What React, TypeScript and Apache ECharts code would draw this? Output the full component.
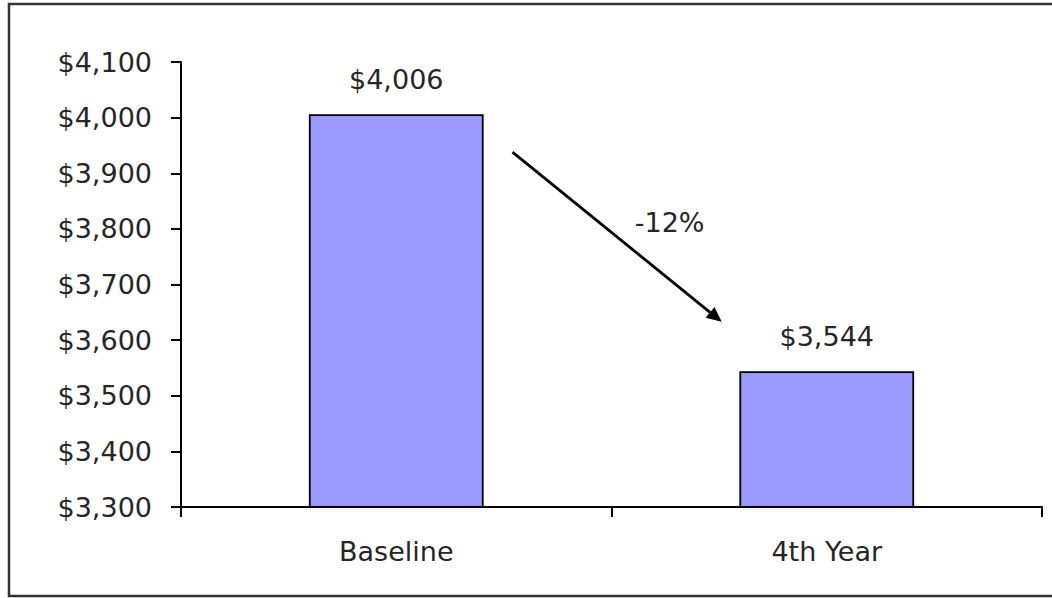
import React, { useEffect, useRef } from "react";
import * as echarts from "echarts";

const categories = ["Baseline", "4th Year"];
const costValues = [4006, 3544];
const yMin = 3300;
const yMax = 4100;
const yStep = 100;
const changeLabel = "-12%";

const FONT = "DejaVu Sans";
const TEXT = "#262626";
const FS = 27;

const money = (v: number) => "$" + Math.round(v).toLocaleString("en-US");

export default function App() {
  const ref = useRef<HTMLDivElement>(null);
  useEffect(() => {
    if (!ref.current) return;
    const chart = echarts.init(ref.current, undefined, { renderer: "svg" });
    const option: any = {
      animation: false,
      backgroundColor: "#ffffff",
      grid: { left: 181, right: 10, top: 62, bottom: 91 },
      xAxis: {
        type: "category",
        data: categories,
        boundaryGap: true,
        axisLine: { lineStyle: { color: "#000", width: 2 } },
        axisTick: { show: true, length: 10, alignWithLabel: false, lineStyle: { color: "#000", width: 2 } },
        axisLabel: { fontFamily: FONT, fontSize: FS, color: TEXT, margin: 31 },
        splitLine: { show: false },
      },
      yAxis: {
        type: "value",
        min: yMin,
        max: yMax,
        interval: yStep,
        axisLine: { show: true, lineStyle: { color: "#000", width: 2 } },
        axisTick: { show: true, length: 10, inside: false, lineStyle: { color: "#000", width: 2 } },
        axisLabel: {
          fontFamily: FONT,
          fontSize: FS,
          color: TEXT,
          margin: 29,
          formatter: (v: number) => money(v),
        },
        splitLine: { show: false },
      },
      series: [
        {
          type: "bar",
          data: costValues,
          barWidth: "40.6%",
          itemStyle: { color: "#9999ff", borderColor: "#000", borderWidth: 1.8 },
          label: {
            show: true,
            position: "top",
            distance: 21,
            fontFamily: FONT,
            fontSize: FS,
            color: TEXT,
            formatter: (p: any) => money(p.value),
          },
        },
      ],
    };
    chart.setOption(option);

    // Arrow annotation, positioned through the chart's own scales
    const c0 = chart.convertToPixel({ xAxisIndex: 0 }, 0) as number;
    const c1 = chart.convertToPixel({ xAxisIndex: 0 }, 1) as number;
    const px = (f: number) => c0 + f * (c1 - c0);
    const py = (v: number) => chart.convertToPixel({ yAxisIndex: 0 }, v) as number;
    const x1 = px(0.27), y1 = py(3938);
    const x2 = px(0.756), y2 = py(3633);
    const ang = Math.atan2(y2 - y1, x2 - x1);
    const hl = 15, hw = 7;
    const bx = x2 - hl * Math.cos(ang), by = y2 - hl * Math.sin(ang);
    const nx = -Math.sin(ang), ny = Math.cos(ang);
    chart.setOption({
      graphic: [
        {
          type: "rect",
          shape: { x: 9, y: 4, width: 1200, height: 592 },
          style: { fill: "none", stroke: "#333", lineWidth: 2.5 },
          silent: true,
        },
        {
          type: "line",
          shape: { x1, y1, x2: bx, y2: by },
          style: { stroke: "#000", lineWidth: 2.8 },
        },
        {
          type: "polygon",
          shape: {
            points: [
              [x2, y2],
              [bx + nx * hw, by + ny * hw],
              [bx - nx * hw, by - ny * hw],
            ],
          },
          style: { fill: "#000" },
        },
        {
          type: "text",
          x: px(0.635),
          y: py(3811),
          style: {
            text: changeLabel,
            fontFamily: FONT,
            fontSize: FS,
            fill: TEXT,
            textAlign: "center",
            textVerticalAlign: "middle",
          },
        },
      ],
    });
    return () => chart.dispose();
  }, []);
  return (
    <div
      ref={ref}
      style={{ position: "absolute", left: 0, top: 0, width: 1052, height: 598 }}
    />
  );
}
